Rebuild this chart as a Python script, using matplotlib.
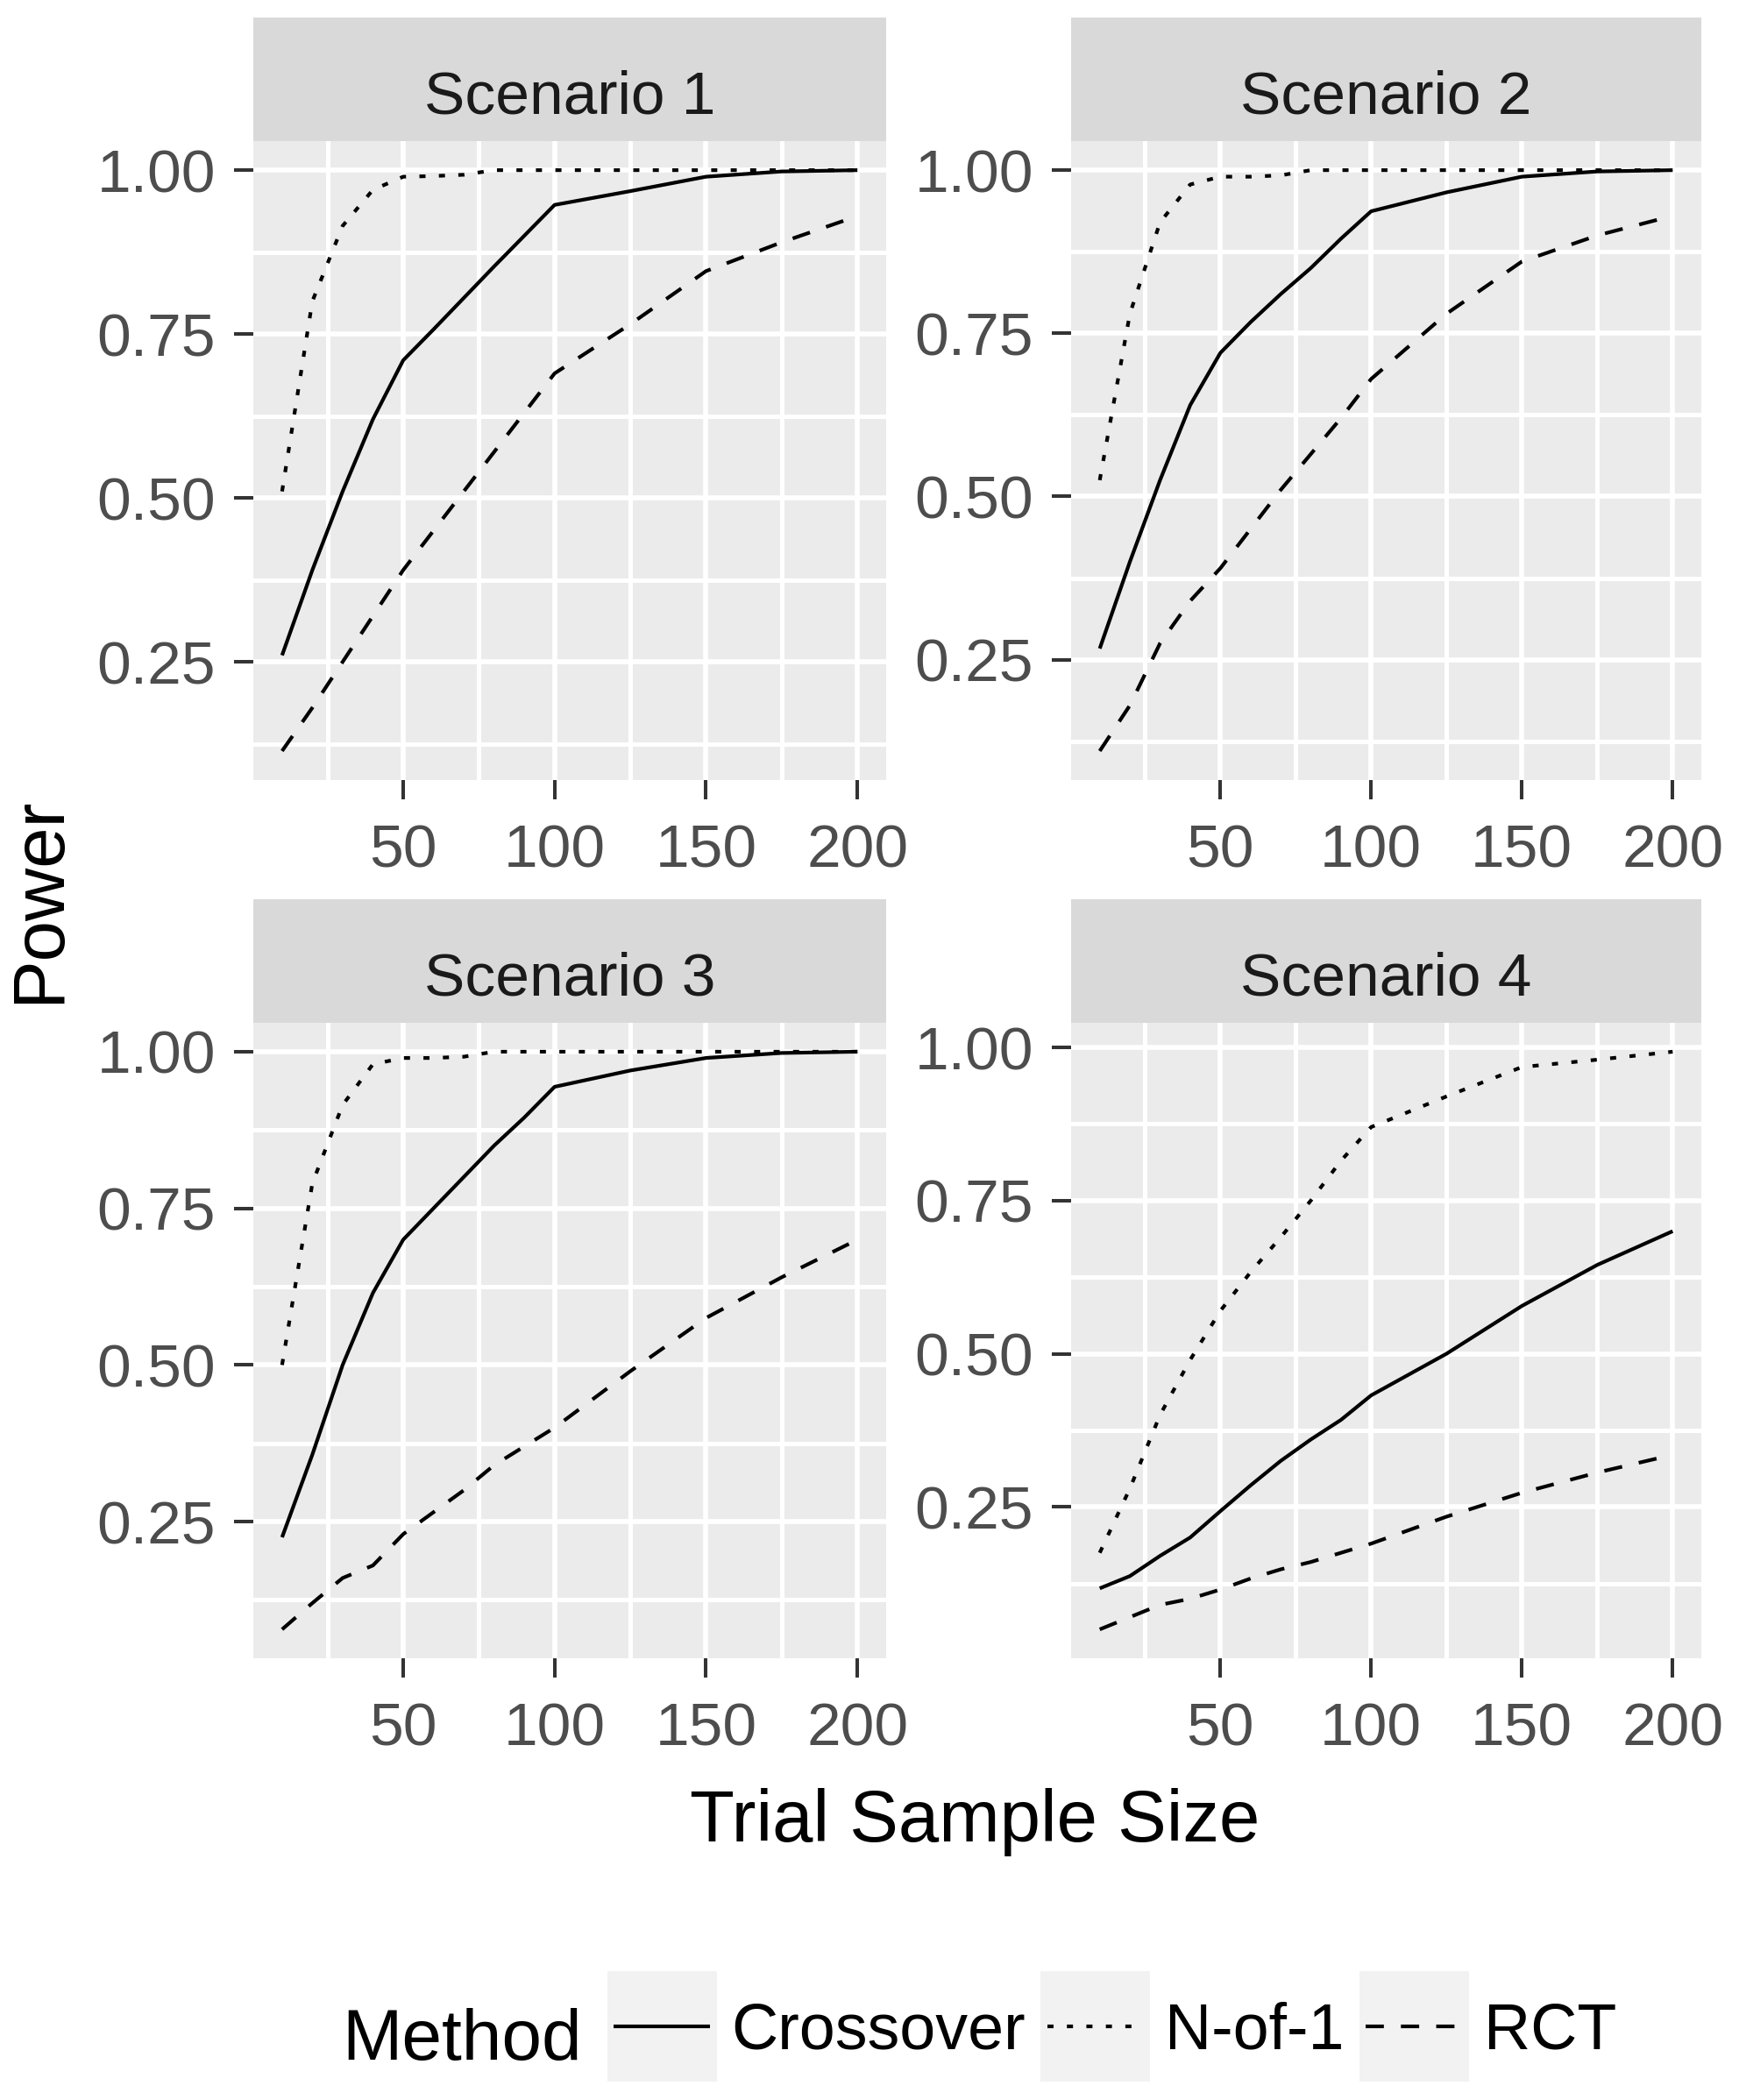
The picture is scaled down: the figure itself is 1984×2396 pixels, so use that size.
import matplotlib
matplotlib.use('Agg')
import matplotlib.pyplot as plt
from matplotlib.patches import Rectangle
from matplotlib.ticker import FormatStrFormatter

plt.rcParams['font.family'] = ['Liberation Sans', 'DejaVu Sans']
plt.rcParams['lines.scale_dashes'] = False

# ---------------- data ----------------
sample_size = [10, 20, 30, 40, 50, 60, 70, 80, 90, 100, 125, 150, 175, 200]
scenarios = ["Scenario 1", "Scenario 2", "Scenario 3", "Scenario 4"]
methods = ["Crossover", "N-of-1", "RCT"]

s1_crossover = [0.26, 0.39, 0.51, 0.62, 0.71, 0.757, 0.805, 0.853, 0.90, 0.947, 0.968, 0.99, 0.998, 1.0]
s1_nof1 = [0.51, 0.80, 0.915, 0.97, 0.99, 0.991, 0.993, 1.0, 1.0, 1.0, 1.0, 1.0, 1.0, 1.0]
s1_rct = [0.114, 0.18, 0.25, 0.32, 0.39, 0.45, 0.51, 0.57, 0.63, 0.69, 0.765, 0.846, 0.89, 0.93]

s2_crossover = [0.267, 0.40, 0.525, 0.64, 0.72, 0.767, 0.81, 0.85, 0.895, 0.937, 0.966, 0.99, 0.998, 1.0]
s2_nof1 = [0.525, 0.78, 0.92, 0.978, 0.99, 0.99, 0.992, 1.0, 1.0, 1.0, 1.0, 1.0, 1.0, 1.0]
s2_rct = [0.11, 0.18, 0.275, 0.34, 0.39, 0.45, 0.51, 0.565, 0.62, 0.68, 0.78, 0.86, 0.90, 0.93]

s3_crossover = [0.225, 0.357, 0.50, 0.615, 0.70, 0.75, 0.80, 0.85, 0.895, 0.944, 0.97, 0.99, 0.998, 1.0]
s3_nof1 = [0.50, 0.79, 0.915, 0.98, 0.99, 0.99, 0.992, 1.0, 1.0, 1.0, 1.0, 1.0, 1.0, 1.0]
s3_rct = [0.078, 0.12, 0.16, 0.18, 0.23, 0.265, 0.30, 0.34, 0.37, 0.40, 0.49, 0.575, 0.64, 0.70]

s4_crossover = [0.117, 0.137, 0.17, 0.20, 0.243, 0.285, 0.325, 0.36, 0.392, 0.432, 0.50, 0.578, 0.645, 0.70]
s4_nof1 = [0.175, 0.28, 0.40, 0.49, 0.57, 0.633, 0.69, 0.75, 0.815, 0.87, 0.92, 0.968, 0.98, 0.993]
s4_rct = [0.05, 0.07, 0.09, 0.10, 0.115, 0.133, 0.148, 0.16, 0.175, 0.19, 0.234, 0.273, 0.306, 0.335]

power = [
    [s1_crossover, s1_nof1, s1_rct],
    [s2_crossover, s2_nof1, s2_rct],
    [s3_crossover, s3_nof1, s3_rct],
    [s4_crossover, s4_nof1, s4_rct],
]

x_major = [50, 100, 150, 200]
x_minor = [25, 75, 125, 175]
y_major = [0.25, 0.50, 0.75, 1.00]
y_minor = [0.125, 0.375, 0.625, 0.875]

# ---------------- styling ----------------
W, H = 1984, 2396
fig = plt.figure(figsize=(W / 100, H / 100), dpi=100)
fig.patch.set_facecolor('white')

def fx(px):
    return px / W

def fy(py):
    return 1 - py / H

linestyles = {
    "Crossover": '-',
    "N-of-1": (0, (5.0, 11.0)),
    "RCT": (0, (15.0, 14.0)),
}
LW = 3.0

# panel pixel boxes: left, right, top, bottom
panels = [(289, 1011, 161, 890), (1222, 1941, 161, 890),
          (289, 1011, 1167, 1892), (1222, 1941, 1167, 1892)]
STRIP_H = 141

handles = []
for i, (l, r, t, b) in enumerate(panels):
    ax = fig.add_axes([fx(l), fy(b), (r - l) / W, (b - t) / H])
    ax.set_facecolor('#EBEBEB')
    allv = []
    for j, m in enumerate(methods):
        vals = power[i][j]
        allv += vals
        ln, = ax.plot(sample_size, vals, color='black', lw=LW,
                      linestyle=linestyles[m], solid_capstyle='butt',
                      dash_capstyle='butt', label=m, zorder=3)
        if i == 0:
            handles.append(ln)
    xr = max(sample_size) - min(sample_size)
    ax.set_xlim(min(sample_size) - 0.05 * xr, max(sample_size) + 0.05 * xr)
    yr = max(allv) - min(allv)
    ylo, yhi = min(allv) - 0.05 * yr, max(allv) + 0.05 * yr
    ax.set_ylim(ylo, yhi)
    ax.set_xticks(x_major)
    ax.set_xticks(x_minor, minor=True)
    ax.set_yticks([v for v in y_major if ylo <= v <= yhi])
    ax.set_yticks([v for v in y_minor if ylo <= v <= yhi], minor=True)
    ax.yaxis.set_major_formatter(FormatStrFormatter('%.2f'))
    ax.grid(which='major', color='white', lw=4.1, zorder=1)
    ax.grid(which='minor', color='white', lw=3.6, zorder=1)
    ax.set_axisbelow(True)
    for s in ax.spines.values():
        s.set_visible(False)
    ax.tick_params(which='minor', length=0)
    ax.tick_params(axis='both', which='major', length=15.8, width=2.9,
                   color='#333333', labelcolor='#4D4D4D', labelsize=50)
    ax.tick_params(axis='x', which='major', pad=20)
    ax.tick_params(axis='y', which='major', pad=15)

    # strip
    sax = fig.add_axes([fx(l), fy(t), (r - l) / W, STRIP_H / H])
    sax.set_facecolor('#D9D9D9')
    sax.set_xticks([])
    sax.set_yticks([])
    for s in sax.spines.values():
        s.set_visible(False)
    fig.text(fx((l + r) / 2), fy(t - 32), scenarios[i], ha='center',
             va='baseline', fontsize=50, color='#1A1A1A')

# axis titles
fig.text(fx(67), fy(1027), "Power", rotation=90, rotation_mode='anchor',
         ha='center', va='baseline', fontsize=60, color='black')
fig.text(fx(1112), fy(2101), "Trial Sample Size", ha='center',
         va='baseline', fontsize=60, color='black')

# legend
fig.text(fx(390), fy(2350), "Method", ha='left', va='baseline',
         fontsize=59, color='black')
leg = fig.legend(handles, methods, loc='center',
                 bbox_to_anchor=(fx(1272), fy(2318)), ncol=3, frameon=False,
                 fontsize=53, handlelength=1.5, handletextpad=0.33,
                 columnspacing=0.33, borderpad=0, borderaxespad=0)

fig.canvas.draw()
renderer = fig.canvas.get_renderer()
for ln in leg.get_lines():
    bb = ln.get_window_extent(renderer)
    cx = (bb.x0 + bb.x1) / 2
    cy = (bb.y0 + bb.y1) / 2
    kw, kh = 125, 126
    rect = Rectangle(((cx - kw / 2) / W, (cy - kh / 2) / H), kw / W, kh / H,
                     transform=fig.transFigure, facecolor='#F2F2F2',
                     edgecolor='none', zorder=0)
    fig.add_artist(rect)

fig.savefig('out.png', dpi=100)
